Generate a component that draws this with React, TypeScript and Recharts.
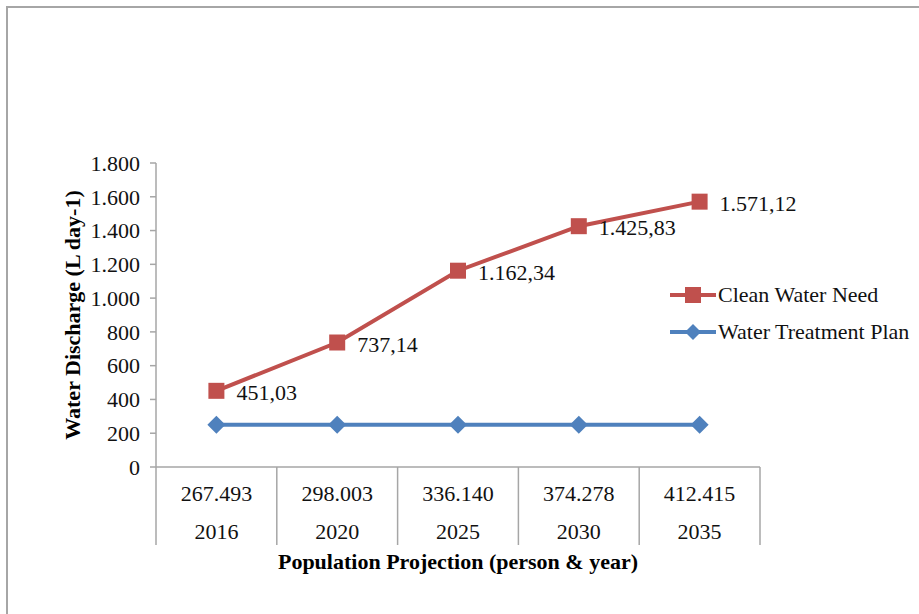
import React from "react"
import { LineChart, Line, XAxis, YAxis, LabelList } from "recharts"

// data
const populations = ["267.493", "298.003", "336.140", "374.278", "412.415"]
const years = ["2016", "2020", "2025", "2030", "2035"]
const cleanWaterNeed = [451.03, 737.14, 1162.34, 1425.83, 1571.12]
const waterTreatmentPlan = [250, 250, 250, 250, 250]
const yTicks = [0, 200, 400, 600, 800, 1000, 1200, 1400, 1600, 1800]

const data = populations.map((p, i) => ({
  pop: p,
  year: years[i],
  clean: cleanWaterNeed[i],
  plan: waterTreatmentPlan[i],
}))

const W = 919
const H = 614
const margin = { top: 163, right: 159, bottom: 67, left: 96 }
const Y_AXIS_W = 60
const X_AXIS_H = 80
const BAND = (W - margin.left - Y_AXIS_W - margin.right) / populations.length

const FONT = "'Liberation Serif', 'Times New Roman', serif"
const FS = 22
const RED = "#c0504d"
const BLUE = "#4f81bd"
const AXIS = "#a6a6a6"

const fmtNum = (v: number) =>
  v.toLocaleString("de-DE", { minimumFractionDigits: 0, maximumFractionDigits: 0 })
const fmtLabel = (v: number) =>
  v.toLocaleString("de-DE", { minimumFractionDigits: 2, maximumFractionDigits: 2 })

const Square = (props: any) => {
  const { cx, cy } = props
  if (cx == null || cy == null) return null
  return <rect x={cx - 8} y={cy - 8} width={16} height={16} fill={RED} />
}

const Diamond = (props: any) => {
  const { cx, cy } = props
  if (cx == null || cy == null) return null
  return <polygon points={`${cx},${cy - 9} ${cx + 9},${cy} ${cx},${cy + 9} ${cx - 9},${cy}`} fill={BLUE} />
}

const CategoryTick = (props: any) => {
  const { x, y, payload, index } = props
  const i = payload.index ?? index
  const d = data[i]
  const last = i === data.length - 1
  return (
    <g>
      <line x1={x - BAND / 2} x2={x - BAND / 2} y1={y} y2={y + 78} stroke={AXIS} strokeWidth={1.5} />
      {last && <line x1={x + BAND / 2} x2={x + BAND / 2} y1={y} y2={y + 78} stroke={AXIS} strokeWidth={1.5} />}
      <text x={x} y={y + 34} textAnchor="middle" fontSize={FS} fontFamily={FONT} fill="#111">
        {d ? d.pop : payload.value}
      </text>
      <text x={x} y={y + 72} textAnchor="middle" fontSize={FS} fontFamily={FONT} fill="#111">
        {d ? d.year : ""}
      </text>
    </g>
  )
}

const PointLabel = (props: any) => {
  const { x, y, value } = props
  return (
    <text x={x + 20} y={y + 9} fontSize={FS} fontFamily={FONT} fill="#111">
      {fmtLabel(value)}
    </text>
  )
}

const YTitle = (props: any) => {
  const vb = props.viewBox || {}
  const cx = vb.x - 24
  const cy = vb.y + vb.height / 2
  return (
    <text
      x={cx}
      y={cy}
      transform={`rotate(-90 ${cx} ${cy})`}
      textAnchor="middle"
      dominantBaseline="central"
      fontSize={FS}
      fontWeight="bold"
      fontFamily={FONT}
      fill="#000"
    >
      Water Discharge (L day-1)
    </text>
  )
}

const XTitle = (props: any) => {
  const vb = props.viewBox || {}
  return (
    <text
      x={vb.x + vb.width / 2}
      y={vb.y + 102}
      textAnchor="middle"
      fontSize={FS}
      fontWeight="bold"
      fontFamily={FONT}
      fill="#000"
    >
      Population Projection (person &amp; year)
    </text>
  )
}

const legendItems = [
  { name: "Clean Water Need", color: RED, shape: "square" },
  { name: "Water Treatment Plan", color: BLUE, shape: "diamond" },
]

const LegendBox = () => (
  <div style={{ position: "absolute", left: 668, top: 276, fontFamily: FONT, fontSize: FS, color: "#111" }}>
    {legendItems.map((it) => (
      <div key={it.name} style={{ display: "flex", alignItems: "center", height: 37 }}>
        <svg width={50} height={20} style={{ marginRight: 0 }}>
          <line x1={2} x2={48} y1={10} y2={10} stroke={it.color} strokeWidth={4} />
          {it.shape === "square" ? (
            <rect x={17} y={2} width={16} height={16} fill={it.color} />
          ) : (
            <polygon points="25,2 33,10 25,18 17,10" fill={it.color} />
          )}
        </svg>
        <span style={{ whiteSpace: "nowrap" }}>{it.name}</span>
      </div>
    ))}
  </div>
)

export default function App() {
  return (
    <div style={{ position: "absolute", left: 0, top: 0, width: W, height: H, background: "#fff" }}>
      <div
        style={{
          position: "absolute",
          left: 6,
          top: 6,
          width: W,
          height: H,
          borderTop: `2px solid ${AXIS}`,
          borderLeft: `2px solid ${AXIS}`,
        }}
      />
      <div style={{ position: "absolute", left: 0, top: 0 }}>
        <LineChart width={W} height={H} data={data} margin={margin}>
          <XAxis
            dataKey="pop"
            scale="band"
            height={X_AXIS_H}
            interval={0}
            tickLine={false}
            tickSize={0}
            tickMargin={0}
            axisLine={{ stroke: AXIS, strokeWidth: 1.5 }}
            tick={<CategoryTick />}
            label={<XTitle />}
          />
          <YAxis
            width={Y_AXIS_W}
            domain={[0, 1800]}
            ticks={yTicks}
            interval={0}
            tickSize={6}
            tickMargin={10}
            tickFormatter={fmtNum}
            tick={{ fontSize: FS, fontFamily: FONT, fill: "#111" }}
            axisLine={{ stroke: AXIS, strokeWidth: 1.5 }}
            tickLine={{ stroke: AXIS, strokeWidth: 1.5 }}
            label={<YTitle />}
          />
          <Line
            dataKey="clean"
            name="Clean Water Need"
            stroke={RED}
            strokeWidth={4}
            dot={<Square />}
            activeDot={false}
            isAnimationActive={false}
          >
            <LabelList dataKey="clean" content={<PointLabel />} />
          </Line>
          <Line
            dataKey="plan"
            name="Water Treatment Plan"
            stroke={BLUE}
            strokeWidth={4}
            dot={<Diamond />}
            activeDot={false}
            isAnimationActive={false}
          />
        </LineChart>
      </div>
      <LegendBox />
    </div>
  )
}
